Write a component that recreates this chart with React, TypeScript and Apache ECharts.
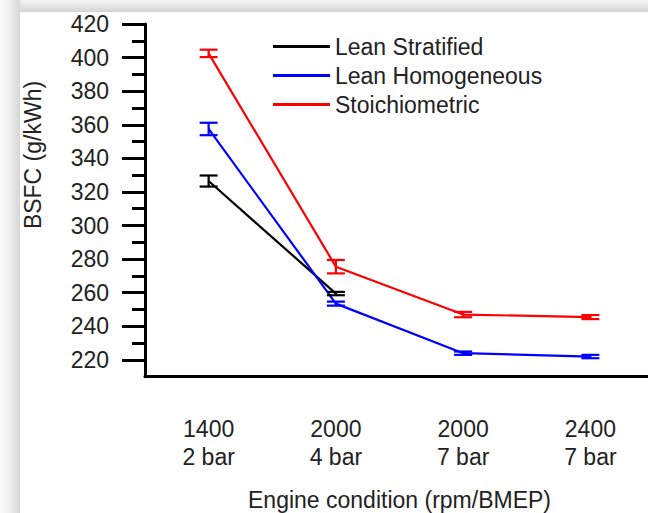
import React, { useEffect, useRef } from "react";
import * as echarts from "echarts";

const categories = ["1400\n2 bar", "2000\n4 bar", "2000\n7 bar", "2400\n7 bar"];
const seriesNames = ["Lean Stratified", "Lean Homogeneous", "Stoichiometric"];
const leanStratified = [326.5, 259.5, null, null];
const leanStratifiedErr = [3.3, 1.0, null, null];
const leanHomogeneous = [357.5, 253.5, 224, 222];
const leanHomogeneousErr = [3.7, 1.2, 1.0, 1.0];
const stoichiometric = [402.5, 275.5, 247, 245.5];
const stoichiometricErr = [2.2, 4.0, 1.6, 1.2];
const yMajorTicks = [220, 240, 260, 280, 300, 320, 340, 360, 380, 400, 420];
const yMinorTicks = [230, 250, 270, 290, 310, 330, 350, 370, 390, 410];
const colors = ["#000000", "#0000ff", "#ff0000"];

const FONT = "'Liberation Sans', Arial, sans-serif";
const TEXT = "#222222";

function errorData(vals: (number | null)[], errs: (number | null)[]) {
  const out: any[] = [];
  vals.forEach((v, i) => {
    const e = errs[i];
    if (v != null && e != null) out.push([i, v - e, v + e]);
  });
  return out;
}

function errorSeries(name: string, data: any[], color: string) {
  return {
    type: "custom",
    name,
    data,
    z: 3,
    renderItem: (params: any, api: any) => {
      const x = api.value(0);
      const hi = api.coord([x, api.value(2)]);
      const lo = api.coord([x, api.value(1)]);
      const hw = 9;
      const style = { stroke: color, lineWidth: 2.2 };
      return {
        type: "group",
        children: [
          { type: "line", shape: { x1: hi[0], y1: hi[1], x2: lo[0], y2: lo[1] }, style },
          { type: "line", shape: { x1: hi[0] - hw, y1: hi[1], x2: hi[0] + hw, y2: hi[1] }, style },
          { type: "line", shape: { x1: lo[0] - hw, y1: lo[1], x2: lo[0] + hw, y2: lo[1] }, style },
        ],
      };
    },
  };
}

export default function App() {
  const ref = useRef<HTMLDivElement>(null);
  useEffect(() => {
    if (!ref.current) return;
    const chart = echarts.init(ref.current, undefined, { renderer: "svg" });
    const lineVals = [leanStratified, leanHomogeneous, stoichiometric];
    const errVals = [leanStratifiedErr, leanHomogeneousErr, stoichiometricErr];
    const option: any = {
      animation: false,
      backgroundColor: "#ffffff",
      textStyle: { fontFamily: FONT },
      graphic: [
        {
          type: "rect",
          z: -10,
          shape: { x: 0, y: 0, width: 648, height: 12 },
          style: {
            fill: new echarts.graphic.LinearGradient(0, 0, 0, 1, [
              { offset: 0, color: "#f4f4f4" },
              { offset: 1, color: "#d4d4d4" },
            ]),
          },
        },
        {
          type: "rect",
          z: -10,
          shape: { x: 0, y: 0, width: 20, height: 513 },
          style: {
            fill: new echarts.graphic.LinearGradient(0, 0, 1, 0, [
              { offset: 0, color: "#fbfbfb" },
              { offset: 0.4, color: "#f3f3f3" },
              { offset: 1, color: "#d6d6d6" },
            ]),
          },
        },
        {
          type: "text",
          x: 33,
          y: 155,
          rotation: Math.PI / 2,
          style: {
            text: "BSFC (g/kWh)",
            fontSize: 23,
            fontFamily: FONT,
            fill: TEXT,
            align: "center",
            verticalAlign: "middle",
          },
        },
      ],
      legend: {
        data: seriesNames,
        orient: "vertical",
        left: 268,
        top: 30,
        itemWidth: 57,
        itemHeight: 3,
        itemGap: 6,
        icon: "rect",
        textStyle: { fontSize: 23, lineHeight: 23, color: TEXT, fontFamily: FONT },
      },
      grid: {
        left: 145,
        top: 24,
        width: 509,
        height: 352.7,
        containLabel: false,
        outerBoundsMode: "none",
      },
      xAxis: {
        type: "category",
        data: categories,
        boundaryGap: true,
        axisLine: { lineStyle: { color: "#000", width: 3 } },
        axisTick: { alignWithLabel: true, length: 21, lineStyle: { color: "#000", width: 3 } },
        axisLabel: { fontSize: 23, lineHeight: 28, margin: 38, color: TEXT, fontFamily: FONT },
        name: "Engine condition (rpm/BMEP)",
        nameLocation: "middle",
        nameGap: 112,
        nameTextStyle: { fontSize: 23, color: TEXT, fontFamily: FONT },
        splitLine: { show: false },
      },
      yAxis: [
        {
          type: "value",
          min: 210,
          max: 420,
          interval: 10,
          position: "left",
          axisLine: { show: true, lineStyle: { color: "#000", width: 3 } },
          axisTick: { show: true, customValues: yMajorTicks, length: 23, lineStyle: { color: "#000", width: 3 } },
          axisLabel: { customValues: yMajorTicks, fontSize: 23, margin: 36, color: TEXT, fontFamily: FONT },
          splitLine: { show: false },
        },
        {
          type: "value",
          min: 210,
          max: 420,
          interval: 10,
          position: "left",
          offset: 0,
          axisLine: { show: false },
          axisTick: { show: true, customValues: yMinorTicks, length: 13, lineStyle: { color: "#000", width: 3 } },
          axisLabel: { show: false },
          splitLine: { show: false },
        },
      ],
      series: [
        ...lineVals.map((vals, i) => ({
          type: "line",
          name: seriesNames[i],
          data: vals,
          symbol: "none",
          connectNulls: false,
          lineStyle: { color: colors[i], width: 2.2 },
          itemStyle: { color: colors[i] },
          z: 2,
        })),
        ...errVals.map((errs, i) => errorSeries(seriesNames[i] + " error", errorData(lineVals[i], errs), colors[i])),
      ],
    };
    chart.setOption(option);
    return () => chart.dispose();
  }, []);
  return (
    <div
      ref={ref}
      style={{ position: "fixed", left: 0, top: 0, width: 648, height: 513 }}
    />
  );
}
